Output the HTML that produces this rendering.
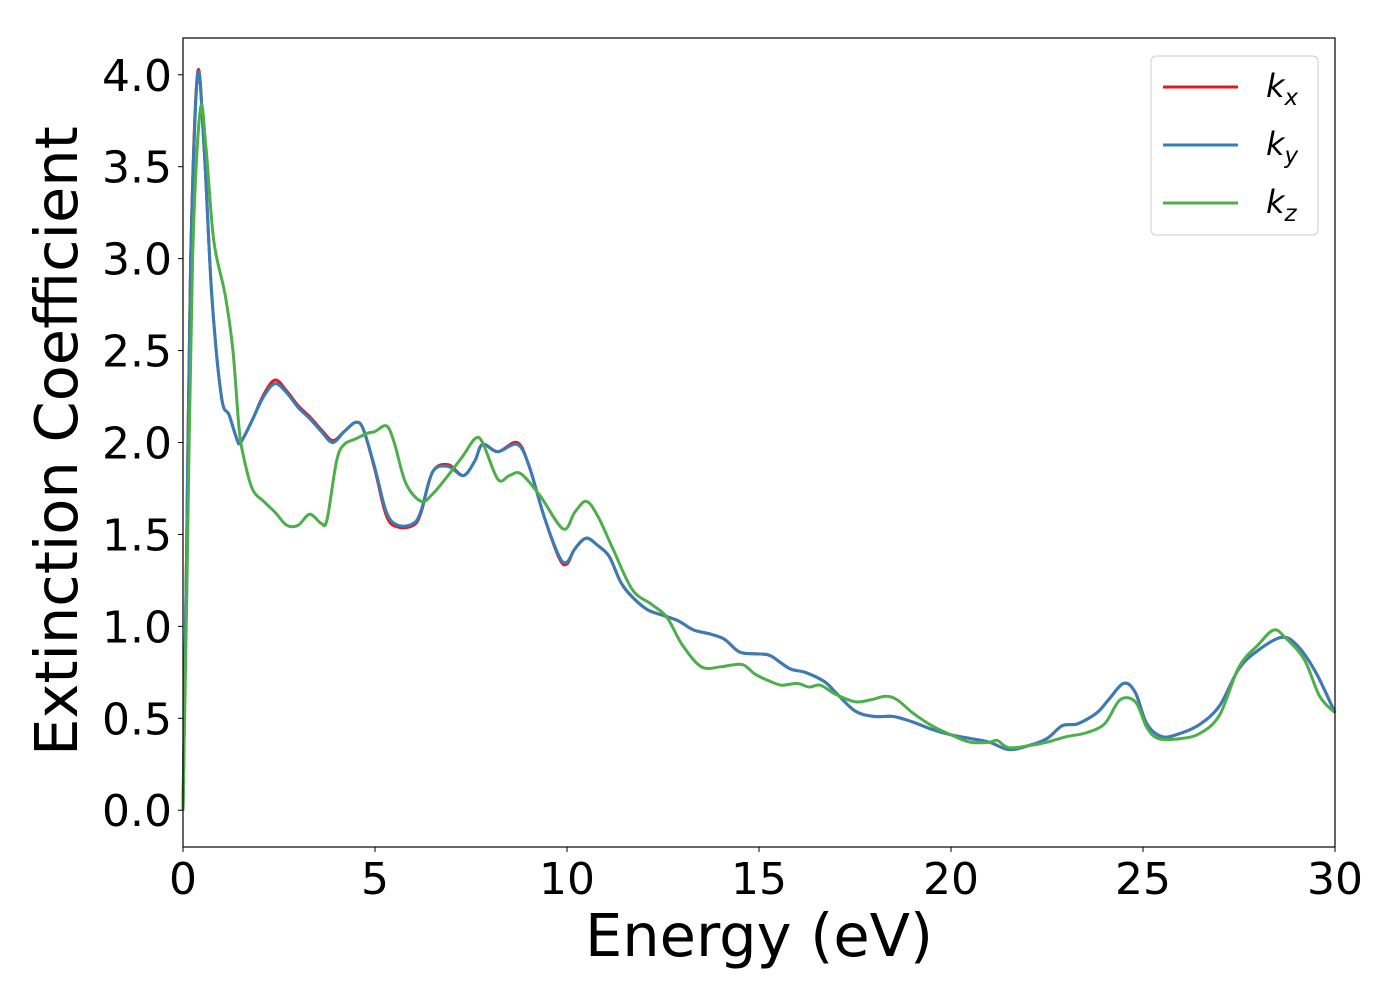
<!DOCTYPE html>
<html><head><meta charset="utf-8"><style>
body{margin:0;background:#fff;}
svg text{font-family:"DejaVu Sans","Liberation Sans",sans-serif;fill:#000;}
</style></head><body>
<svg id="chart" width="1400" height="1000" xmlns="http://www.w3.org/2000/svg">
<rect width="1400" height="1000" fill="#fff"/>
<g id="series"></g>
<g id="axes"></g>
</svg>
<script>
const kxE=[0,0.1,0.2,0.38,0.55,0.75,1.0,1.2,1.4,1.5,1.8,2.1,2.4,2.7,3.0,3.3,3.6,3.9,4.2,4.5,4.7,5.0,5.3,5.6,6.0,6.2,6.5,6.9,7.3,7.6,7.8,8.2,8.7,9.0,9.4,9.8,10.0,10.2,10.5,10.8,11.1,11.4,11.7,12.1,12.5,12.9,13.3,13.7,14.1,14.5,15.0,15.3,15.8,16.2,16.7,17.0,17.5,18.0,18.5,19.0,19.5,20.0,20.5,21.0,21.5,22.0,22.5,22.9,23.3,23.8,24.1,24.5,24.8,25.1,25.5,26.0,26.5,27.0,27.5,28.0,28.6,29.0,29.5,30];
const kxV=[0,1.5,3.0,4.01,3.6,2.8,2.25,2.15,2.02,2.0,2.12,2.26,2.34,2.28,2.2,2.14,2.07,2.01,2.06,2.11,2.07,1.85,1.6,1.54,1.55,1.62,1.84,1.88,1.82,1.9,1.99,1.95,2.0,1.88,1.6,1.37,1.34,1.42,1.48,1.44,1.38,1.24,1.16,1.09,1.06,1.03,0.98,0.96,0.93,0.86,0.85,0.84,0.77,0.75,0.7,0.64,0.54,0.51,0.51,0.48,0.44,0.41,0.39,0.37,0.33,0.35,0.39,0.46,0.47,0.53,0.6,0.69,0.64,0.47,0.4,0.42,0.47,0.57,0.77,0.87,0.94,0.9,0.75,0.53];
const kyV=[0,1.5,3.0,4.0,3.6,2.8,2.25,2.15,2.02,2.0,2.12,2.25,2.32,2.27,2.19,2.13,2.06,2.0,2.06,2.11,2.07,1.86,1.62,1.55,1.56,1.63,1.84,1.87,1.82,1.9,1.99,1.95,1.99,1.88,1.6,1.38,1.35,1.42,1.48,1.44,1.38,1.24,1.16,1.09,1.06,1.03,0.98,0.96,0.93,0.86,0.85,0.84,0.77,0.75,0.7,0.64,0.54,0.51,0.51,0.48,0.44,0.41,0.39,0.37,0.33,0.35,0.39,0.46,0.47,0.53,0.6,0.69,0.64,0.47,0.4,0.42,0.47,0.57,0.77,0.87,0.94,0.9,0.75,0.53];
const kzE=[0,0.1,0.25,0.45,0.6,0.8,1.1,1.3,1.45,1.55,1.8,2.1,2.4,2.7,3.0,3.3,3.6,3.75,4.0,4.2,4.5,4.8,5.0,5.3,5.5,5.8,6.2,6.5,6.9,7.3,7.6,7.8,8.2,8.5,8.8,9.3,9.9,10.2,10.5,10.8,11.2,11.7,12.2,12.6,13.0,13.5,14.0,14.3,14.6,14.9,15.3,15.6,16.0,16.3,16.6,17.0,17.5,17.9,18.3,18.6,19.0,19.5,20.0,20.5,21.0,21.2,21.5,22.0,22.5,23.0,23.5,24.0,24.4,24.8,25.1,25.4,26.0,26.5,27.0,27.5,28.0,28.4,28.7,29.2,29.6,30];
const kzV=[0,1.2,3.0,3.81,3.6,3.1,2.8,2.5,2.1,1.95,1.75,1.68,1.62,1.55,1.55,1.61,1.56,1.58,1.9,1.99,2.02,2.05,2.06,2.09,2.0,1.78,1.68,1.72,1.82,1.93,2.02,2.0,1.8,1.82,1.83,1.71,1.53,1.62,1.68,1.6,1.42,1.2,1.12,1.05,0.9,0.78,0.78,0.79,0.79,0.74,0.7,0.68,0.69,0.67,0.68,0.63,0.59,0.6,0.62,0.6,0.53,0.46,0.41,0.37,0.37,0.38,0.34,0.35,0.37,0.4,0.42,0.47,0.6,0.59,0.45,0.39,0.39,0.42,0.52,0.78,0.9,0.98,0.94,0.82,0.62,0.53];
const xTicks=[0,5,10,15,20,25,30];
const yTicks=[0.0,0.5,1.0,1.5,2.0,2.5,3.0,3.5,4.0];
const X0=183,X1=1335,Y0=38,Y1=847,xmin=0,xmax=30,ymin=-0.2,ymax=4.2;
const sx=v=>X0+(v-xmin)/(xmax-xmin)*(X1-X0);
const sy=v=>Y1-(v-ymin)/(ymax-ymin)*(Y1-Y0);
const NS='http://www.w3.org/2000/svg';
function path(E,V){
  const p=E.map((e,i)=>[sx(e),sy(V[i])]);
  let d='M'+p[0][0]+','+p[0][1];
  for(let i=0;i<p.length-1;i++){
    const a=p[i-1]||p[i],b=p[i],c=p[i+1],e=p[i+2]||c;
    const c1=[b[0]+(c[0]-a[0])/6,b[1]+(c[1]-a[1])/6];
    const c2=[c[0]-(e[0]-b[0])/6,c[1]-(e[1]-b[1])/6];
    d+=' C'+c1+' '+c2+' '+c;
  }
  return d;
}
const sg=document.getElementById('series');
[[kxE,kxV,'#e41a1c','kx-line'],[kxE,kyV,'#377eb8','ky-line'],[kzE,kzV,'#4daf4a','kz-line']].forEach(s=>{
  const el=document.createElementNS(NS,'path');
  el.setAttribute('d',path(s[0],s[1]));
  el.setAttribute('fill','none');el.setAttribute('stroke',s[2]);el.setAttribute('stroke-width','3');
  
  
  sg.appendChild(el);
});
const ax=document.getElementById('axes');
let h='<rect x="'+X0+'" y="'+Y0+'" width="'+(X1-X0)+'" height="'+(Y1-Y0)+'" fill="none" stroke="#000" stroke-width="1.2"/>';
xTicks.forEach(t=>{const x=sx(t);h+='<line x1="'+x+'" y1="'+Y1+'" x2="'+x+'" y2="'+(Y1+5)+'" stroke="#000"/><text x="'+x+'" y="894" font-size="44" text-anchor="middle">'+t+'</text>';});
yTicks.forEach(t=>{const y=sy(t);h+='<line x1="'+(X0-5)+'" y1="'+y+'" x2="'+X0+'" y2="'+y+'" stroke="#000"/><text x="172" y="'+(y+16)+'" font-size="44" text-anchor="end">'+t.toFixed(1)+'</text>';});
h+='<text x="759" y="956" font-size="59" text-anchor="middle">Energy (eV)</text>';
h+='<text transform="translate(77,441) rotate(-90)" font-size="59" text-anchor="middle">Extinction Coefficient</text>';
h+='<g><rect x="1151" y="56" width="167" height="179" rx="5" fill="#fff" fill-opacity="0.8" stroke="#ccc"/>';
[['x','#e41a1c',87],['y','#377eb8',145],['z','#4daf4a',203]].forEach(l=>{h+='<g><line x1="1163" y1="'+l[2]+'" x2="1238" y2="'+l[2]+'" stroke="'+l[1]+'" stroke-width="3"/><text x="1266" y="'+(l[2]+10)+'" font-size="32" font-style="italic">k<tspan font-size="23" dy="8">'+l[0]+'</tspan></text></g>';});
h+='</g>';
ax.innerHTML=h;
</script>
</body></html>
